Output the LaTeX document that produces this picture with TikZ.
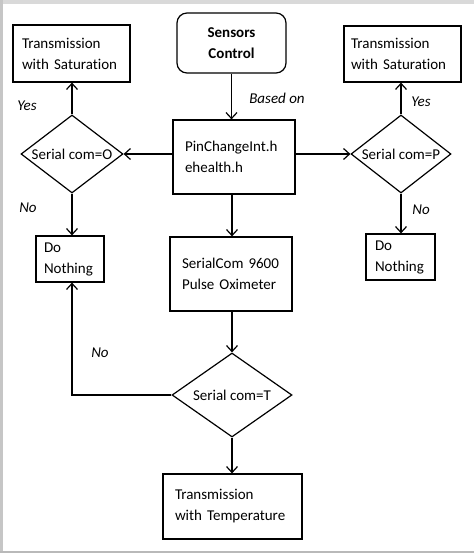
\documentclass[tikz,border=0pt]{standalone}
\usepackage{fontspec}
\setmainfont{Carlito}[Ligatures=NoCommon]
\usetikzlibrary{arrows.meta,positioning,shapes.geometric}

\begin{document}
\begin{tikzpicture}[x=1pt,y=-1pt,
    font=\fontsize{15}{21}\selectfont,
    every path/.style={line width=1.2pt},
    flow/.style={draw,rectangle,align=left,inner ysep=0pt},
    decide/.style={draw,diamond,inner sep=0pt},
    lbl/.style={font=\fontsize{15}{21}\selectfont\itshape},
    arr/.style={-{Straight Barb[length=6pt,width=11pt]}}]
\useasboundingbox (0,0) rectangle (474,553);

% Frame strips
\fill[gray!30] (0,0) rectangle (474,4);
\fill[gray!45] (0,0) rectangle (3,553);
\fill[gray!55] (0,551) rectangle (474,553);

% Top row
\node[flow,rounded corners=10pt,align=center,minimum width=109pt,minimum height=60pt,font=\fontsize{15}{21}\selectfont\bfseries] (sensors) at (231.5,43) {Sensors\\Control};
\node[flow,inner xsep=9pt,text width=99pt,minimum height=57pt] (tsatL) at (71.5,53.5) {Transmission\\with Saturation};
\node[flow,inner xsep=7pt,text width=103pt,minimum height=56pt] (tsatR) at (402.5,54) {Transmission\\with Saturation};

% Middle row
\node[flow,inner xsep=12pt,text width=98pt,minimum height=74pt] (pin) at (234,157) {PinChangeInt.h\\ehealth.h};
\node[decide,minimum width=102pt,minimum height=78pt,label=center:{Serial com=O}] (dO) at (72,154) {};
\node[decide,minimum width=100pt,minimum height=78pt,label=center:{Serial com=P}] (dP) at (401,154) {};

% Lower row
\node[flow,inner xsep=8pt,text width=52pt,minimum height=46pt] (nothL) at (70,259) {Do\\Nothing};
\node[flow,inner xsep=9pt,text width=51pt,minimum height=46pt] (nothR) at (400.5,257) {Do\\Nothing};
\node[flow,inner xsep=12pt,text width=98pt,minimum height=74pt] (serial) at (231,274) {SerialCom 9600\\Pulse Oximeter};
\node[decide,minimum width=120pt,minimum height=84pt,label=center:{Serial com=T}] (dT) at (232,395) {};
\node[flow,inner xsep=12pt,text width=115pt,minimum height=65pt] (ttemp) at (232.5,506.5) {Transmission\\with Temperature};

% Labels
\node[lbl] (yesL) at (27,106) {Yes};
\node[lbl] (noL) at (28,208) {No};
\node[lbl] (based) at (277,98) {Based on};
\node[lbl] (yesR) at (421,102) {Yes};
\node[lbl] (noR) at (421,210) {No};
\node[lbl] (noT) at (100,353) {No};

% Connections
\draw[arr] (sensors.south) -- (sensors.south |- pin.north);
\draw[arr] (pin.west |- dO.east) -- (dO.east);
\draw[arr] (pin.east |- dP.west) -- (dP.west);
\draw[arr] (dO.north) -- (dO.north |- tsatL.south);
\draw[arr] (dO.south) -- (dO.south |- nothL.north);
\draw[arr] (dP.north) -- (dP.north |- tsatR.south);
\draw[arr] (dP.south) -- (dP.south |- nothR.north);
\draw[arr] (pin.south -| dT.north) -- (dT.north |- serial.north);
\draw[arr] (serial.south -| dT.north) -- (dT.north);
\draw[arr] (dT.south) -- (dT.south |- ttemp.north);
\draw[arr] (dT.west) -| (dO.south |- nothL.south);
\end{tikzpicture}
\end{document}
